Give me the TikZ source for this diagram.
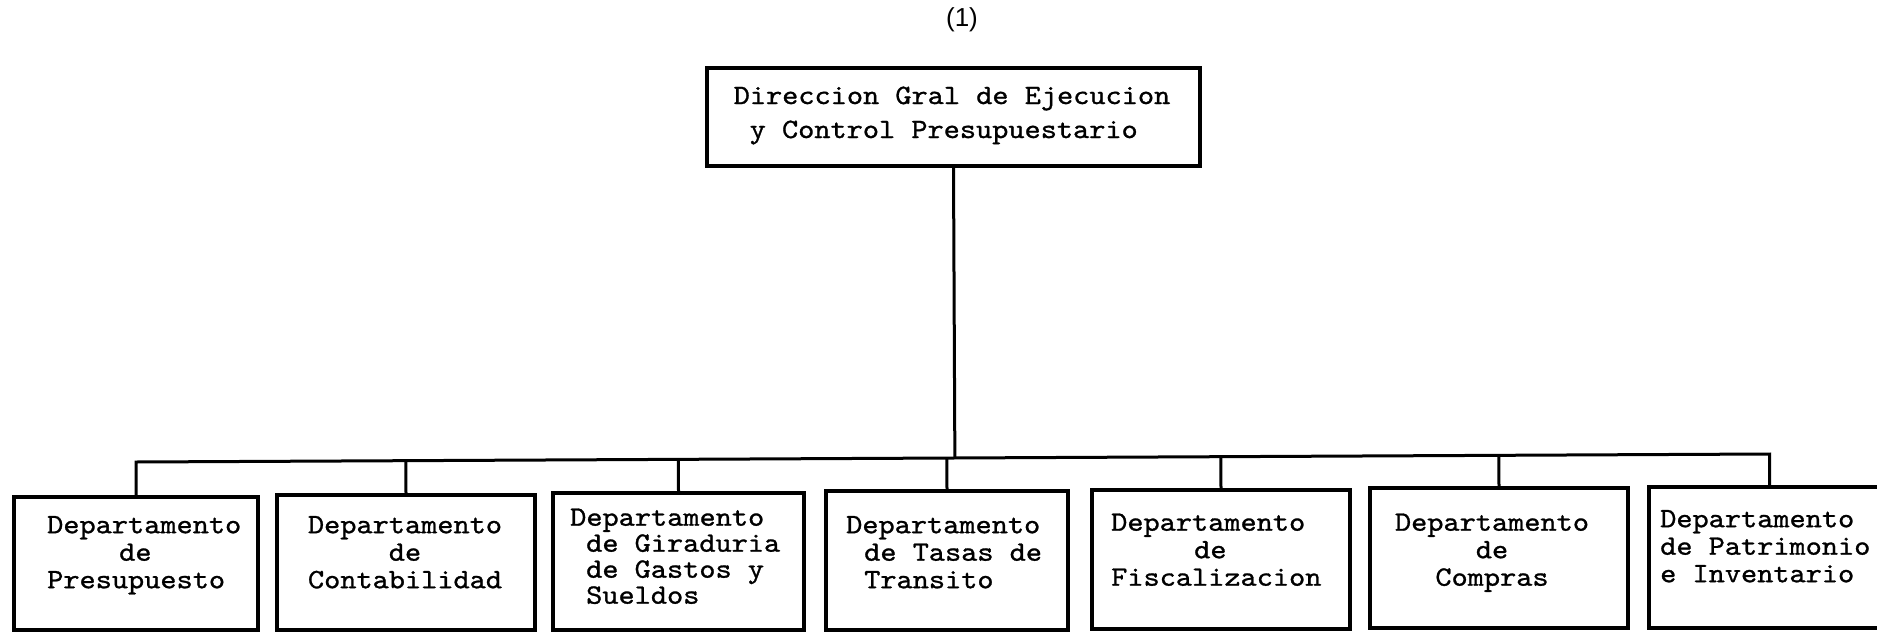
\documentclass[tikz,border=0pt]{standalone}
\usepackage{fontspec}
\newfontfamily\typew{lmmono10-regular.otf}[FakeStretch=1.1,FakeBold=1]
\newfontfamily\labelsans{Liberation Sans}
\usetikzlibrary{calc}
\begin{document}
\begin{tikzpicture}[x=1pt,y=-1pt,
  box/.style={draw, line width=3.5pt, inner sep=0pt},
  txt/.style={inner sep=0pt, font=\typew\fontsize{28}{27.5}\selectfont},
  txtc/.style={txt, align=center, anchor=north},
  txtl/.style={txt, align=left, anchor=north west},
  conn/.style={line width=3pt}]
\useasboundingbox (0,0) rectangle (1877,632);
\node[font=\labelsans\fontsize{26}{30}\selectfont] (num) at (962,20) {(1)};
% boxes
\node[box, minimum width=493pt, minimum height=98pt] (top) at (953.5,117) {};
\node[box, minimum width=244pt, minimum height=133pt] (b1) at (136,563.5) {};
\node[box, minimum width=258pt, minimum height=135pt] (b2) at (406,562.5) {};
\node[box, minimum width=251pt, minimum height=137pt] (b3) at (678.5,561.5) {};
\node[box, minimum width=242pt, minimum height=139pt] (b4) at (947,560.5) {};
\node[box, minimum width=258pt, minimum height=139pt] (b5) at (1221,559.5) {};
\node[box, minimum width=258pt, minimum height=140pt] (b6) at (1499,558) {};
\node[box, minimum width=241pt, minimum height=141pt] (b7) at (1769.5,557.5) {};
% texts
\node[txtl, font=\typew\fontsize{28}{34}\selectfont] (ttop) at (733.5,86.4)
  {Direccion Gral de Ejecucion\\\hspace*{16pt}y Control Presupuestario};
\node[txtl] (t1) at (47,515.9)
  {Departamento\\\hspace*{72pt}de\\Presupuesto};
\node[txtc] (t2) at (405,515.9)
  {Departamento\\de\\Contabilidad};
\node[txtl, font=\typew\fontsize{28}{26}\selectfont] (t3) at (570,508.4)
  {Departamento\\\hspace*{16pt}de Giraduria\\\hspace*{16pt}de Gastos y\\\hspace*{16pt}Sueldos};
\node[txtl] (t4) at (846,515.9)
  {Departamento\\\hspace*{18pt}de Tasas de\\\hspace*{18pt}Transito};
\node[txtl] (t5) at (1111,513.4)
  {Departamento\\\hspace*{83pt}de\\Fiscalizacion};
\node[txtc] (t6) at (1492,513.4)
  {Departamento\\de\\Compras};
\node[txtl] (t7) at (1660,509.9)
  {Departamento\\de Patrimonio\\e Inventario};
% connectors
\coordinate (busL) at (b1.north |- 0,462);
\coordinate (busR) at (b7.north |- 0,454);
\draw[conn] (top.south) -- ($(busL)!(top.south)!(busR)$);
\draw[conn] (b1.north) -- (busL) -- (busR) -- (b7.north);
\foreach \b in {b2,b3,b4,b5,b6}
  \draw[conn] (\b.north) -- ($(busL)!(\b.north)!(busR)$);
\end{tikzpicture}
\end{document}
